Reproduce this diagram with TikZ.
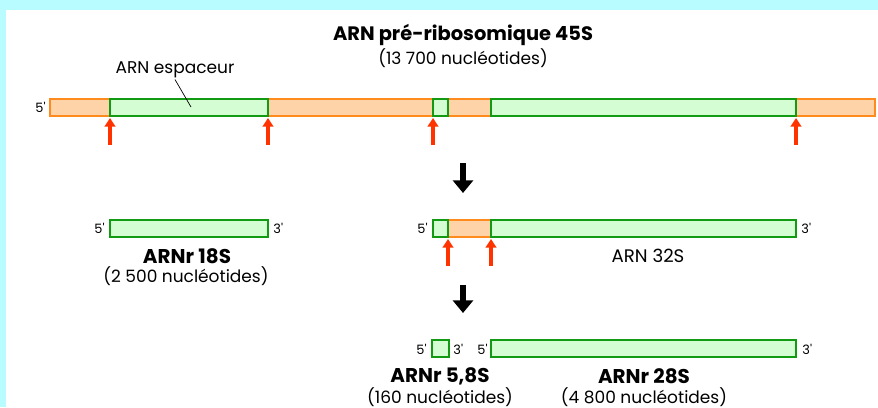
\documentclass[tikz,border=0pt]{standalone}
\usepackage{fontspec}
\setmainfont{Poppins}[Ligatures=TeXOff]
\usepackage{xcolor}
\usepackage{tikz}
\usetikzlibrary{arrows.meta}

\definecolor{framecyan}{HTML}{B8FCFF}
\definecolor{spacerfill}{HTML}{FFD3A8}
\definecolor{spacerline}{HTML}{FF8A1E}
\definecolor{rrnafill}{HTML}{D4FDD4}
\definecolor{rrnaline}{HTML}{139A13}
\definecolor{cutred}{HTML}{FF3300}

\tikzset{
  spacerseg/.style={fill=spacerfill, draw=spacerline, line width=1.4pt},
  rrnaseg/.style={fill=rrnafill, draw=rrnaline, line width=1.7pt},
  cutarrow/.style={-{Triangle[length=0.26cm,width=0.32cm]}, line width=2.6pt, cutred},
  steparrow/.style={-{Triangle[length=0.38cm,width=0.6cm]}, line width=5pt, black},
  endlbl/.style={inner sep=1pt, font=\fontsize{11}{13}\selectfont},
  namelbl/.style={inner sep=1pt, font=\fontsize{17}{19}\selectfont\bfseries},
  ntlbl/.style={inner sep=1pt, font=\fontsize{14.5}{16}\selectfont}
}

\begin{document}
\begin{tikzpicture}[x=0.03cm,y=-0.03cm]
\fill[framecyan] (0,0) rectangle (878,407);
\fill[white] (6,10) rectangle (878,407);
% ARN 45S
\node[namelbl, font=\fontsize{16.6}{18}\selectfont\bfseries] (t45) at (463,35) {ARN pré-ribosomique 45S};
\node[ntlbl] (n45) at (463,58) {(13 700 nucléotides)};
\draw[spacerseg] (50,99) rectangle (110,116);
\draw[spacerseg] (268,99) rectangle (433,116);
\draw[spacerseg] (448,99) rectangle (491,116);
\draw[spacerseg] (796,99) rectangle (875,116);
\draw[rrnaseg] (110,99) rectangle (268,116);
\draw[rrnaseg] (433,99) rectangle (448,116);
\draw[rrnaseg] (491,99) rectangle (796,116);
\node[endlbl, anchor=east] (e45) at (47,107) {5'};
\node[ntlbl] (esp) at (175,70) {ARN espaceur};
\coordinate (espin) at (191,107);
\draw[line width=0.6pt] (esp.south) -- (espin);
\foreach \x in {110,268,433,796}
  \draw[cutarrow] (\x,145) -- (\x,118);
\draw[steparrow] (463,163) -- (463,193);
% ARNr 18S
\draw[rrnaseg] (110,220) rectangle (268,237);
\node[endlbl, anchor=east] (a18) at (106,228) {5'};
\node[endlbl, anchor=west] (b18) at (272,228) {3'};
\node[namelbl] (t18) at (187,256) {ARNr 18S};
\node[ntlbl] (n18) at (186,276) {(2 500 nucléotides)};
% ARN 32S
\draw[spacerseg] (448,220) rectangle (491,237);
\draw[rrnaseg] (433,220) rectangle (448,237);
\draw[rrnaseg] (491,220) rectangle (796,237);
\node[endlbl, anchor=east] (a32) at (429,228) {5'};
\node[endlbl, anchor=west] (b32) at (800,228) {3'};
\node[ntlbl, font=\fontsize{15.5}{17}\selectfont] (t32) at (648,256) {ARN 32S};
\foreach \x in {448,491}
  \draw[cutarrow] (\x,266) -- (\x,239);
\draw[steparrow] (463,285) -- (463,313);
% ARNr 5,8S et 28S
\draw[rrnaseg] (432,340) rectangle (449,357);
\draw[rrnaseg] (491,340) rectangle (796,357);
\node[endlbl, anchor=east] (a58) at (428,349) {5'};
\node[endlbl, anchor=west] (b58) at (452,349) {3'};
\node[endlbl, anchor=east] (a28) at (489,349) {5'};
\node[endlbl, anchor=west] (b28) at (801,349) {3'};
\node[namelbl] (t58) at (440,376) {ARNr 5,8S};
\node[ntlbl] (n58) at (440,397) {(160 nucléotides)};
\node[namelbl] (t28) at (644,376) {ARNr 28S};
\node[ntlbl] (n28) at (644,397) {(4 800 nucléotides)};
\end{tikzpicture}
\end{document}
